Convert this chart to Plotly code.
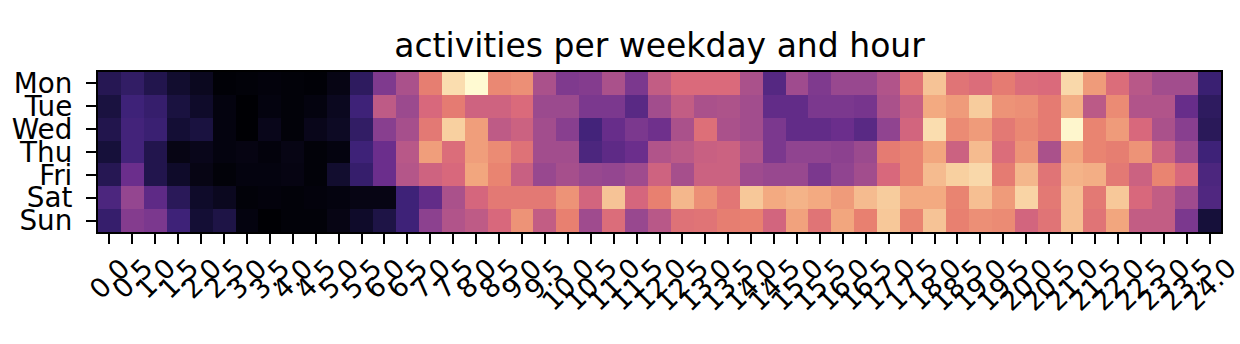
import plotly.graph_objects as go

# Weekday rows (top to bottom) and half-hour columns
days = ["Mon", "Tue", "Wed", "Thu", "Fri", "Sat", "Sun"]
hours = [0.0, 0.5, 1.0, 1.5, 2.0, 2.5, 3.0, 3.5, 4.0, 4.5, 5.0, 5.5, 6.0, 6.5,
         7.0, 7.5, 8.0, 8.5, 9.0, 9.5, 10.0, 10.5, 11.0, 11.5, 12.0, 12.5,
         13.0, 13.5, 14.0, 14.5, 15.0, 15.5, 16.0, 16.5, 17.0, 17.5, 18.0,
         18.5, 19.0, 19.5, 20.0, 20.5, 21.0, 21.5, 22.0, 22.5, 23.0, 23.5, 24.0]
hour_labels = ["0.0", "0.5", "1.0", "1.5", "2.0", "2.5", "3.0", "3.5", "4.0",
               "4.5", "5.0", "5.5", "6.0", "6.5", "7.0", "7.5", "8.0", "8.5",
               "9.0", "9.5", "10.0", "10.5", "11.0", "11.5", "12.0", "12.5",
               "13.0", "13.5", "14.0", "14.5", "15.0", "15.5", "16.0", "16.5",
               "17.0", "17.5", "18.0", "18.5", "19.0", "19.5", "20.0", "20.5",
               "21.0", "21.5", "22.0", "22.5", "23.0", "23.5", "24.0"]

# Relative activity level per weekday and half hour
mon = [0.14, 0.17, 0.13, 0.08, 0.05, 0.005, 0.01, 0.015, 0.01, 0.005,
       0.03, 0.16, 0.35, 0.46, 0.69, 0.93, 1.0, 0.72, 0.74, 0.46,
       0.35, 0.36, 0.46, 0.34, 0.53, 0.61, 0.61, 0.61, 0.46, 0.25,
       0.43, 0.35, 0.41, 0.41, 0.48, 0.65, 0.87, 0.65, 0.62, 0.68,
       0.62, 0.61, 0.92, 0.77, 0.62, 0.5, 0.44, 0.44, 0.19]
tue = [0.11, 0.2, 0.18, 0.11, 0.07, 0.02, 0.0, 0.02, 0.01, 0.02,
       0.05, 0.2, 0.52, 0.42, 0.6, 0.68, 0.57, 0.57, 0.61, 0.42,
       0.42, 0.34, 0.34, 0.26, 0.44, 0.53, 0.46, 0.47, 0.44, 0.28,
       0.28, 0.34, 0.34, 0.33, 0.46, 0.55, 0.81, 0.77, 0.89, 0.75,
       0.74, 0.68, 0.82, 0.51, 0.73, 0.48, 0.48, 0.29, 0.16]
wed = [0.13, 0.21, 0.19, 0.09, 0.11, 0.02, 0.0, 0.04, 0.01, 0.04,
       0.06, 0.17, 0.37, 0.45, 0.67, 0.9, 0.78, 0.52, 0.56, 0.44,
       0.37, 0.21, 0.29, 0.34, 0.31, 0.46, 0.63, 0.46, 0.44, 0.34,
       0.28, 0.28, 0.3, 0.26, 0.39, 0.58, 0.93, 0.73, 0.77, 0.67,
       0.72, 0.68, 0.99, 0.71, 0.77, 0.6, 0.46, 0.37, 0.15]
thu = [0.1, 0.21, 0.13, 0.03, 0.04, 0.02, 0.025, 0.015, 0.03, 0.01,
       0.02, 0.2, 0.3, 0.5, 0.78, 0.62, 0.78, 0.73, 0.64, 0.44,
       0.44, 0.23, 0.27, 0.3, 0.48, 0.51, 0.55, 0.56, 0.48, 0.34,
       0.39, 0.39, 0.38, 0.42, 0.68, 0.71, 0.8, 0.56, 0.85, 0.62,
       0.75, 0.46, 0.8, 0.71, 0.69, 0.75, 0.56, 0.43, 0.2]
fri = [0.14, 0.3, 0.13, 0.07, 0.03, 0.01, 0.02, 0.02, 0.025, 0.01,
       0.08, 0.18, 0.3, 0.49, 0.57, 0.6, 0.8, 0.71, 0.55, 0.41,
       0.45, 0.41, 0.4, 0.43, 0.57, 0.45, 0.56, 0.56, 0.43, 0.41,
       0.41, 0.34, 0.39, 0.44, 0.6, 0.71, 0.85, 0.9, 0.92, 0.68,
       0.84, 0.65, 0.83, 0.82, 0.67, 0.56, 0.71, 0.6, 0.23]
sat = [0.23, 0.4, 0.27, 0.15, 0.07, 0.05, 0.01, 0.015, 0.01, 0.015,
       0.02, 0.03, 0.03, 0.2, 0.28, 0.46, 0.59, 0.67, 0.67, 0.67,
       0.75, 0.58, 0.87, 0.59, 0.7, 0.84, 0.74, 0.66, 0.88, 0.81,
       0.83, 0.81, 0.77, 0.85, 0.89, 0.81, 0.81, 0.71, 0.86, 0.77,
       0.91, 0.67, 0.86, 0.67, 0.88, 0.6, 0.53, 0.43, 0.24]
sun = [0.18, 0.36, 0.34, 0.2, 0.09, 0.12, 0.02, 0.0, 0.01, 0.01,
       0.03, 0.07, 0.12, 0.2, 0.38, 0.48, 0.52, 0.6, 0.75, 0.53,
       0.7, 0.43, 0.62, 0.41, 0.5, 0.64, 0.65, 0.69, 0.7, 0.58,
       0.79, 0.65, 0.8, 0.7, 0.88, 0.71, 0.87, 0.7, 0.74, 0.73,
       0.58, 0.65, 0.86, 0.65, 0.8, 0.53, 0.53, 0.34, 0.1]

# Soft magma-like ramp: black -> indigo -> purple -> rose -> peach -> cream
colorscale = [
    [0.0, "#000004"],
    [0.1, "#16103a"],
    [0.2, "#3e2278"],
    [0.3, "#6b2e8c"],
    [0.4, "#944690"],
    [0.5, "#b85888"],
    [0.6, "#d8687c"],
    [0.7, "#e88070"],
    [0.8, "#f2a67e"],
    [0.9, "#f8d0a0"],
    [1.0, "#fffad2"],
]

FONT = "DejaVu Sans"
TICK_PX = 27.8
XTICK_PX = 27
SPINE = 2.2

fig = go.Figure(
    go.Heatmap(
        z=[mon, tue, wed, thu, fri, sat, sun],
        x=hours,
        y=days,
        colorscale=colorscale,
        zmin=0,
        zmax=1,
        showscale=False,
        hoverinfo="skip",
    )
)

# Rotated hour labels, centred under each tick
annotations = [
    dict(
        x=h, xref="x", y=0, yref="paper", yshift=-19,
        text=lab, showarrow=False, textangle=-45,
        xanchor="center", yanchor="top", borderpad=0,
        font=dict(family=FONT, size=XTICK_PX, color="black"),
    )
    for h, lab in zip(hours, hour_labels)
]

fig.update_layout(
    width=1240,
    height=344,
    margin=dict(l=92, r=19, t=72, b=112),
    paper_bgcolor="white",
    plot_bgcolor="white",
    title=dict(
        text="activities per weekday and hour",
        font=dict(family=FONT, size=33, color="black"),
        x=0.5, xref="paper", xanchor="center",
        y=1 - 45 / 344, yref="container", yanchor="middle",
    ),
    annotations=annotations,
    xaxis=dict(
        range=[-0.25, 24.25],
        tickmode="array",
        tickvals=hours,
        showticklabels=False,
        ticks="outside",
        ticklen=10,
        tickwidth=SPINE,
        tickcolor="black",
        showgrid=False,
        zeroline=False,
        showline=True,
        linecolor="black",
        linewidth=SPINE,
        mirror=True,
    ),
    yaxis=dict(
        autorange="reversed",
        tickmode="array",
        tickvals=days,
        ticktext=days,
        ticks="outside",
        ticklen=10,
        tickwidth=SPINE,
        tickcolor="black",
        ticklabelstandoff=8,
        tickfont=dict(family=FONT, size=TICK_PX, color="black"),
        showgrid=False,
        zeroline=False,
        showline=True,
        linecolor="black",
        linewidth=SPINE,
        mirror=True,
    ),
)

fig.write_html("out.html")
